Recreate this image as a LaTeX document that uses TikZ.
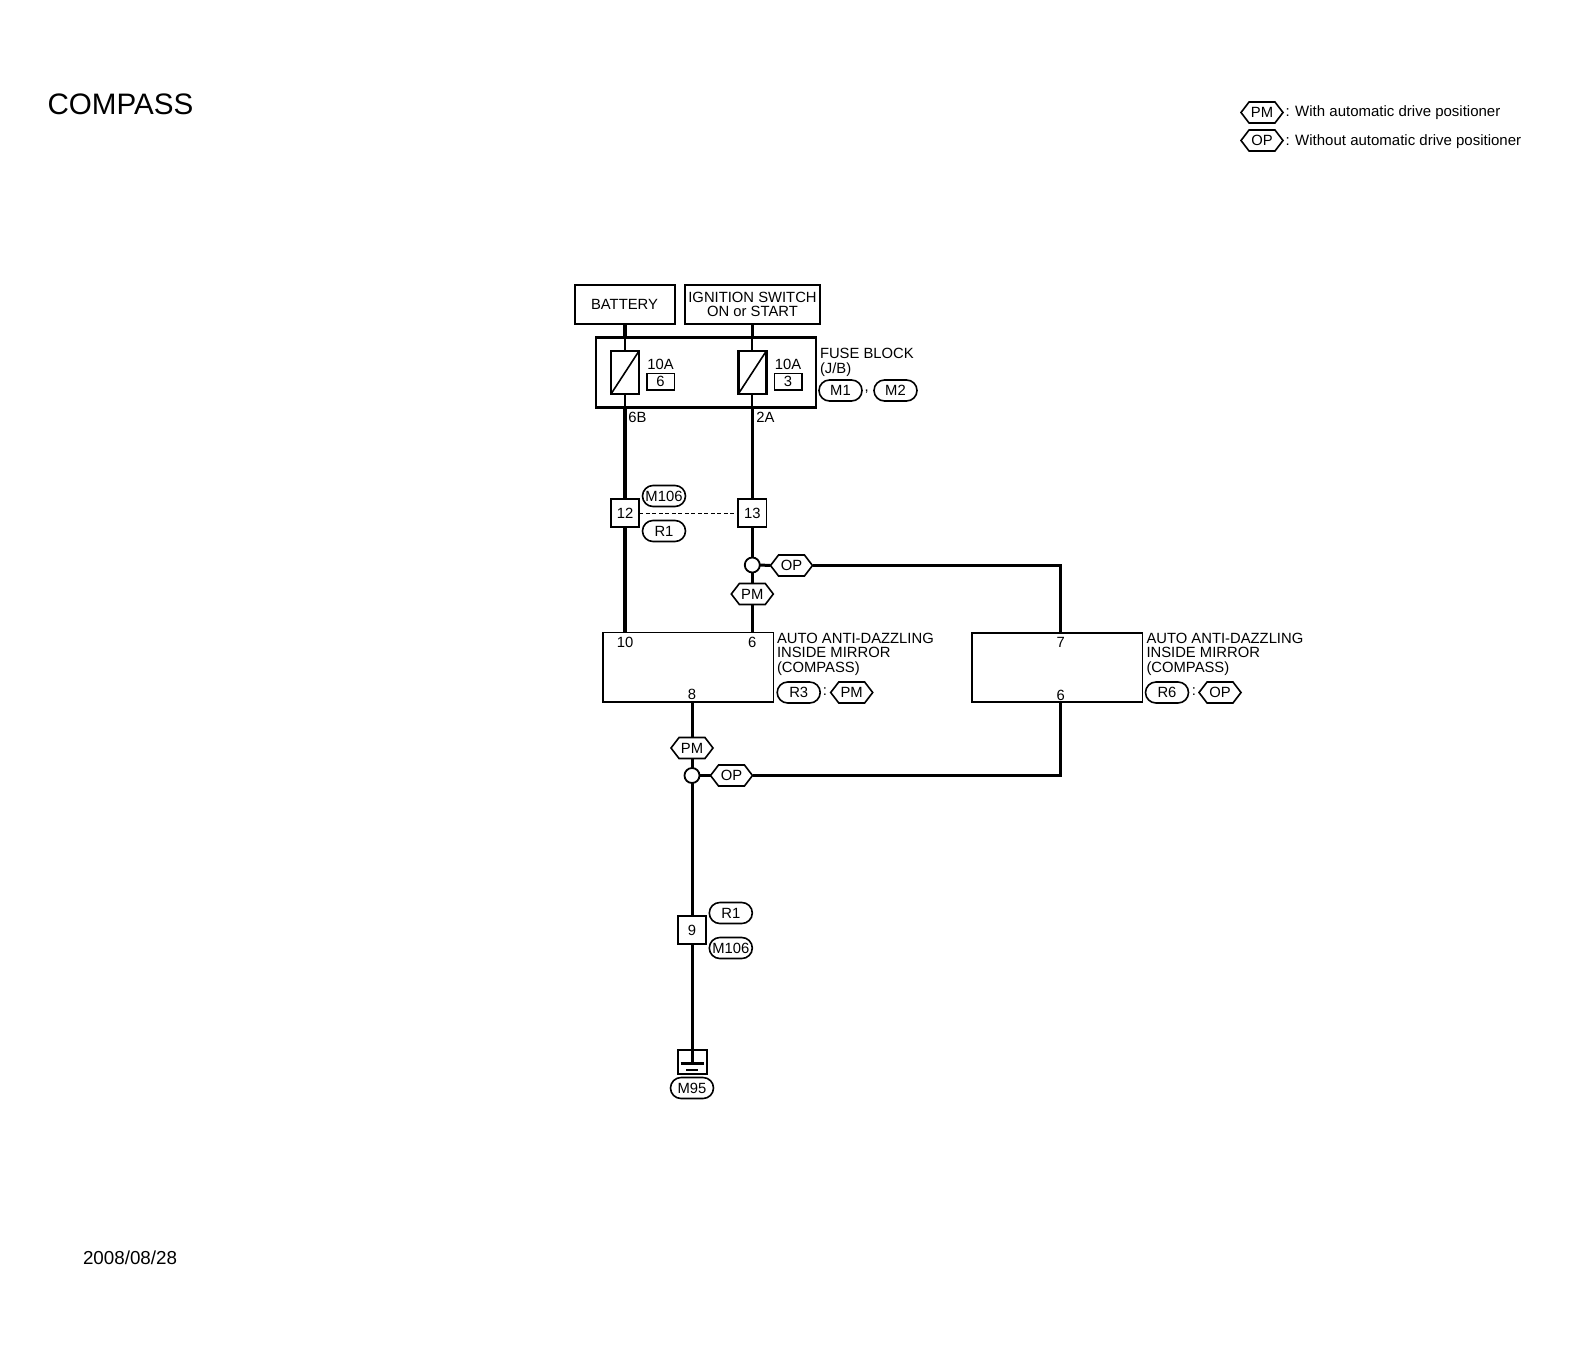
\documentclass[tikz,border=0pt]{standalone}
\usepackage{fontspec}
\setmainfont{Liberation Sans}
\usetikzlibrary{shapes.misc,shapes.symbols,calc}
\newcommand{\lblfont}{\fontsize{14.8}{14.5}\selectfont}
\tikzset{
  x=1pt,y=-1pt,
  every node/.style={font=\lblfont,inner sep=0pt,outer sep=0pt},
  txt/.style={anchor=west,align=left},
  srcbox/.style={draw,line width=2pt,minimum width=#1,minimum height=39pt,align=center},
  fuseblock/.style={draw,line width=2.6pt,minimum width=220pt,minimum height=70pt},
  fusebox/.style={draw,line width=2.6pt,fill=white,minimum width=28pt,minimum height=43pt},
  ratebox/.style={draw,line width=1.5pt,fill=white,minimum width=27.5pt,minimum height=16.5pt},
  connbox/.style={draw,line width=1.8pt,fill=white,minimum width=28.5pt,minimum height=28.5pt},
  unitbox/.style={draw,line width=1.6pt,minimum width=170.5pt,minimum height=69.5pt},
  gndbox/.style={draw,line width=1.8pt,minimum width=29pt,minimum height=24pt},
  pill/.style={draw,line width=1.6pt,fill=white,rounded rectangle,minimum width=43pt,minimum height=21pt},
  hexa/.style={draw,line width=1.6pt,fill=white,signal,signal to=west and east,signal pointer angle=105,minimum width=42pt,minimum height=21pt},
  junction/.style={draw,line width=1.8pt,fill=white,circle,minimum size=15pt},
  thickwire/.style={line width=4pt},
  wire/.style={line width=3pt},
  thinwire/.style={line width=2pt},
}
\begin{document}
\begin{tikzpicture}
\useasboundingbox (0,0) rectangle (1578,1344);
% titles
\node[txt,font=\fontsize{29.6}{30}\selectfont] (title) at (47.5,104) {COMPASS};
\node[txt,font=\fontsize{18.8}{20}\selectfont] (date) at (83,1258) {2008/08/28};
% legend
\node[hexa] (legPM) at (1262,112.5) {PM};
\node[hexa] (legOP) at (1262,140.5) {OP};
\node[txt,font=\fontsize{15}{15}\selectfont] (legPMt) at (1285.5,113) {: With automatic drive positioner};
\node[txt,font=\fontsize{15}{15}\selectfont] (legOPt) at (1285.5,141.5) {: Without automatic drive positioner};
% sources
\node[srcbox=100pt] (bat) at (624.5,304) {BATTERY};
\node[srcbox=135pt] (ign) at (752.5,304) {IGNITION SWITCH\\[-0.5pt]ON or START};
% fuse block
\node[fuseblock] (fb) at (706,372.3) {};
\node[fusebox] (f1) at (625,372.5) {};
\node[fusebox] (f2) at (752.3,372.5) {};
\draw[line width=1.6pt] (f1.south west) -- (f1.north east);
\draw[line width=1.6pt] (f2.south west) -- (f2.north east);
\node (a1) at (660.5,364.5) {10A};
\node (a2) at (788,364.5) {10A};
\node[ratebox] (r1) at (660.5,381.5) {6};
\node[ratebox] (r2) at (788,381.5) {3};
\node[txt] (fbt) at (820,362.5) {FUSE BLOCK\\(J/B)};
\node[pill] (m1) at (840.5,390.5) {M1};
\node (comma) at (866.7,392) {,};
\node[pill] (m2) at (895.5,390.5) {M2};
\node[anchor=west] (l6b) at (628.3,417.7) {6B};
\node[anchor=west] (l2a) at (756.3,417.7) {2A};
% connector
\node[connbox] (c12) at (625,513) {12};
\node[connbox] (c13) at (752.3,513) {13};
\node[pill] (m106a) at (664,496) {M106};
\node[pill] (r1a) at (664,531) {R1};
% mirror A
\node[unitbox] (ua) at (688.3,667.2) {};
\coordinate (p10) at (625,632.4);
\coordinate (p6) at (752.3,632.4);
\coordinate (p8) at (692,702);
\node (t10) at (625,642) {10};
\node (t6) at (752.3,642) {6};
\node (t8) at (692,694.5) {8};
\node[txt] (uat) at (777,654) {AUTO ANTI-DAZZLING\\INSIDE MIRROR\\(COMPASS)};
\node[pill] (r3) at (798.7,692.5) {R3};
\node (c3) at (825,692) {:};
\node[hexa] (pmc) at (851.7,692.5) {PM};
% mirror B
\node[unitbox] (ub) at (1057.2,667.5) {};
\coordinate (p7) at (1060.7,632.7);
\coordinate (p6b) at (1060.7,702.3);
\node (t7) at (1060.7,642) {7};
\node (t6b) at (1060.7,695) {6};
\node[txt] (ubt) at (1146.5,654) {AUTO ANTI-DAZZLING\\INSIDE MIRROR\\(COMPASS)};
\node[pill] (r6) at (1167,692.5) {R6};
\node (c6) at (1194,692) {:};
\node[hexa] (opc) at (1220,692.5) {OP};
% junctions and selectors
\node[junction] (j1) at (752.3,565) {};
\node[hexa] (op1) at (791.5,565.5) {OP};
\node[hexa] (pm1) at (752.3,594) {PM};
\node[hexa] (pm2) at (692,748) {PM};
\node[junction] (j2) at (692,775.5) {};
\node[hexa] (op2) at (731.5,775.5) {OP};
% lower connector
\node[connbox] (c9) at (692,930) {9};
\node[pill] (r1b) at (730.8,913) {R1};
\node[pill] (m106b) at (730.8,948) {M106};
% ground
\node[gndbox] (gnd) at (692.2,1062) {};
\coordinate (gt) at (692,1063.5);
\coordinate (gl1) at (680.7,1063.5);
\coordinate (gr1) at (703.5,1063.5);
\coordinate (gl2) at (686,1070);
\coordinate (gr2) at (698,1070);
\node[pill] (m95) at (692,1088) {M95};
% wires
\draw[thickwire] (bat.south -| f1) -- (f1 |- fb.north);
\draw[wire] (ign.south -| f2) -- (f2 |- fb.north);
\draw[thinwire] (f1 |- fb.north) -- (f1.north);
\draw[thinwire] (f2 |- fb.north) -- (f2.north);
\draw[thinwire] (f1.south) -- (f1 |- fb.south);
\draw[thinwire] (f2.south) -- (f2 |- fb.south);
\draw[thickwire] (f1 |- fb.south) -- (c12.north);
\draw[wire] (f2 |- fb.south) -- (c13.north);
\draw[line width=1pt,dash pattern=on 4pt off 2.5pt] (c12.east) -- (c13.west);
\draw[thickwire] (c12.south) -- (p10);
\draw[wire] (c13.south) -- (j1.north);
\draw[wire] (j1.south) -- (pm1.north);
\draw[wire] (pm1.south) -- (p6);
\draw[wire] (j1.east) -- (op1.west);
\draw[wire] (op1.east) -| (p7);
\draw[wire] (p8) -- (pm2.north);
\draw[wire] (pm2.south) -- (j2.north);
\draw[wire] (j2.east) -- (op2.west);
\draw[wire] (op2.east) -| (p6b);
\draw[wire] (j2.south) -- (c9.north);
\draw[wire] (c9.south) -- (gt);
\draw[line width=2.6pt] (gl1) -- (gr1);
\draw[line width=1.8pt] (gl2) -- (gr2);
\end{tikzpicture}
\end{document}
